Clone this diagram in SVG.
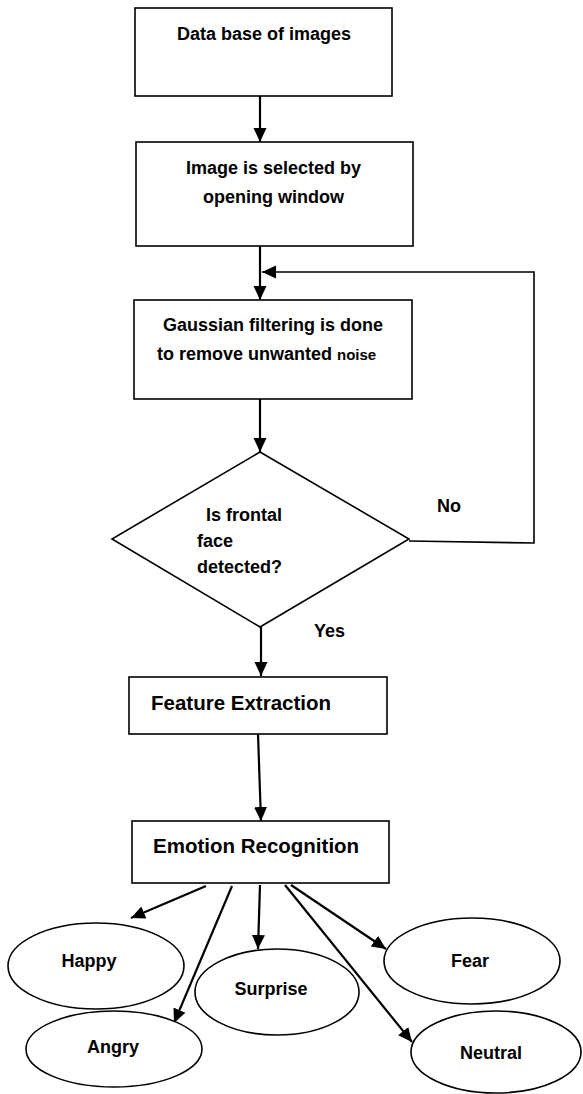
<svg xmlns="http://www.w3.org/2000/svg" width="583" height="1094" viewBox="0 0 583 1094">
<style>
.box{fill:#fff;stroke:#000;stroke-width:1.6}
.t{font-family:"Liberation Sans",Arial,sans-serif;font-weight:bold;font-size:18px;fill:#000}
.big{font-size:20.5px}
.c{text-anchor:middle}
.ln{fill:none;stroke:#000;stroke-width:2.2}
.fb{fill:none;stroke:#000;stroke-width:1.6}
</style>
<defs>
<marker id="ah" markerUnits="userSpaceOnUse" markerWidth="16" markerHeight="16" viewBox="0 0 16 16" refX="14" refY="8" orient="auto">
<path d="M0,1.5 L14,8 L0,14.5 Z" fill="#000"/>
</marker>
</defs>
<rect width="583" height="1094" fill="#fff"/>
<g id="connectors">
<line class="ln" x1="260" y1="96" x2="260" y2="142" marker-end="url(#ah)"/>
<line class="ln" x1="260" y1="246" x2="260" y2="300" marker-end="url(#ah)"/>
<path class="fb" d="M409,541 L534,543 V272 H262" marker-end="url(#ah)"/>
<line class="ln" x1="260" y1="399" x2="260" y2="452" marker-end="url(#ah)"/>
<line class="ln" x1="261" y1="627" x2="261" y2="676" marker-end="url(#ah)"/>
<line class="ln" x1="258" y1="734" x2="261" y2="821" marker-end="url(#ah)"/>
<line class="ln" x1="206" y1="886" x2="131" y2="918" marker-end="url(#ah)"/>
<line class="ln" x1="232" y1="886" x2="174" y2="1023" marker-end="url(#ah)"/>
<line class="ln" x1="260" y1="885" x2="258" y2="949" marker-end="url(#ah)"/>
<line class="ln" x1="285" y1="885" x2="412" y2="1042" marker-end="url(#ah)"/>
<line class="ln" x1="291" y1="885" x2="386" y2="949" marker-end="url(#ah)"/>
</g>
<g id="n-database">
<rect class="box" x="135" y="8" width="257" height="88"/>
<text class="t c" x="264" y="40">Data base of images</text>
</g>
<g id="n-select">
<rect class="box" x="136" y="142" width="277" height="104"/>
<text class="t c" x="273.5" y="174">Image is selected by</text>
<text class="t c" x="273.5" y="203">opening window</text>
</g>
<g id="n-gaussian">
<rect class="box" x="134" y="300" width="278" height="99"/>
<text class="t c" x="273" y="331">Gaussian filtering is done</text>
<text class="t" x="157" y="360">to remove unwanted <tspan font-size="15">noise</tspan></text>
</g>
<g id="n-decision">
<polygon class="box" points="260,452 409,539 260,627 112,539"/>
<text class="t" x="206" y="521">Is frontal</text>
<text class="t" x="197" y="547">face</text>
<text class="t" x="197" y="573">detected?</text>
</g>
<g id="labels">
<text class="t" x="437" y="512">No</text>
<text class="t" x="314" y="637">Yes</text>
</g>
<g id="n-feature">
<rect class="box" x="129" y="677" width="258" height="57"/>
<text class="t big" x="151" y="710">Feature Extraction</text>
</g>
<g id="n-emotion">
<rect class="box" x="132" y="821" width="257" height="62"/>
<text class="t big" x="153" y="853">Emotion Recognition</text>
</g>
<g id="n-happy">
<ellipse class="box" cx="96" cy="966" rx="88" ry="43"/>
<text class="t c" x="89" y="967">Happy</text>
</g>
<g id="n-angry">
<ellipse class="box" cx="114" cy="1049" rx="88" ry="38"/>
<text class="t c" x="113" y="1053">Angry</text>
</g>
<g id="n-surprise">
<ellipse class="box" cx="277" cy="992" rx="82" ry="43"/>
<text class="t c" x="271" y="995">Surprise</text>
</g>
<g id="n-fear">
<ellipse class="box" cx="472" cy="961" rx="88" ry="43"/>
<text class="t c" x="470" y="967">Fear</text>
</g>
<g id="n-neutral">
<ellipse class="box" cx="496" cy="1052" rx="85" ry="41"/>
<text class="t c" x="491" y="1059">Neutral</text>
</g>
</svg>
